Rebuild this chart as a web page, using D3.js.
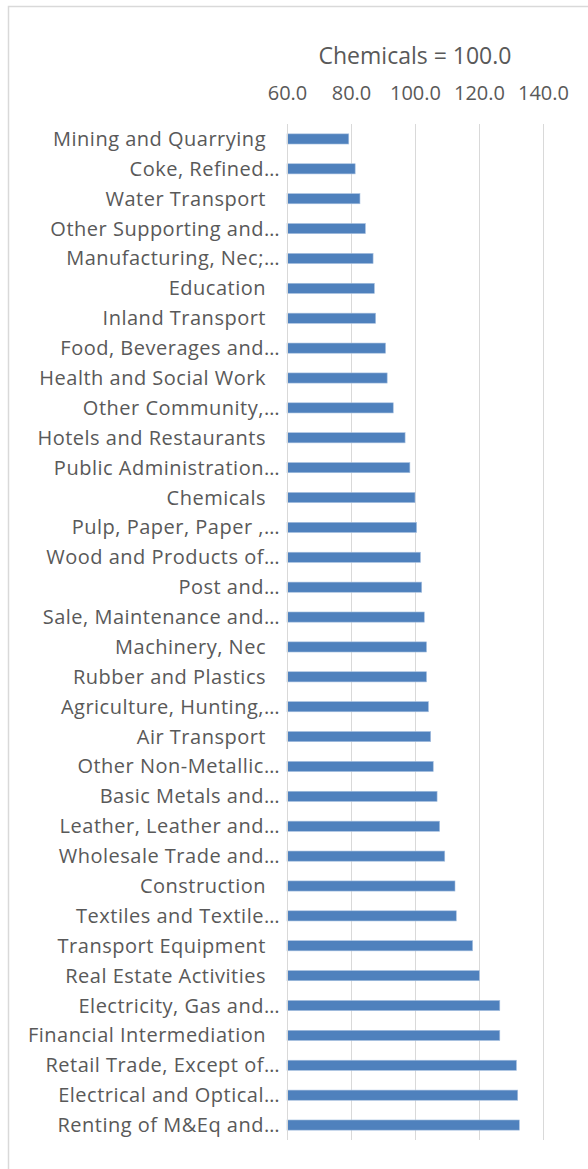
<!DOCTYPE html>
<html>
<head>
<meta charset="utf-8">
<script src="https://cdn.jsdelivr.net/npm/d3@7"></script>
<style>
  html, body { margin: 0; padding: 0; background: #fff; }
  svg { display: block; }
  text { font-family: "Open Sans", Lato, sans-serif; fill: #595959; }
</style>
</head>
<body>
<svg id="chart" width="588" height="1169"></svg>
<script>
// Industries, top to bottom
const industries = [
  "Mining and Quarrying",
  "Coke, Refined…",
  "Water Transport",
  "Other Supporting and…",
  "Manufacturing, Nec;…",
  "Education",
  "Inland Transport",
  "Food, Beverages and…",
  "Health and Social Work",
  "Other Community,…",
  "Hotels and Restaurants",
  "Public Administration…",
  "Chemicals",
  "Pulp, Paper, Paper ,…",
  "Wood and Products of…",
  "Post and…",
  "Sale, Maintenance and…",
  "Machinery, Nec",
  "Rubber and Plastics",
  "Agriculture, Hunting,…",
  "Air Transport",
  "Other Non-Metallic…",
  "Basic Metals and…",
  "Leather, Leather and…",
  "Wholesale Trade and…",
  "Construction",
  "Textiles and Textile…",
  "Transport Equipment",
  "Real Estate Activities",
  "Electricity, Gas and…",
  "Financial Intermediation",
  "Retail Trade, Except of…",
  "Electrical and Optical…",
  "Renting of M&Eq and…"
];

// Index values (Chemicals = 100.0)
const indexValues = [
  79.3, 81.3, 82.8, 84.5, 86.9, 87.3, 87.7, 90.8, 91.3, 93.2, 96.9, 98.4,
  100.0, 100.5, 101.7, 102.1, 102.9, 103.6, 103.6, 104.2, 104.9, 105.7, 106.9,
  107.7, 109.3, 112.5, 112.9, 118.0, 120.1, 126.5, 126.5, 131.7, 132.1, 132.6
];

const tickValues = [60, 80, 100, 120, 140];
const axisTitle = "Chemicals = 100.0";

const svg = d3.select("#chart");

// chart frame
svg.append("rect")
  .attr("x", 8.5).attr("y", 6.5)
  .attr("width", 620).attr("height", 1200)
  .attr("fill", "#fff")
  .attr("stroke", "#d9d9d9")
  .attr("stroke-width", 1.5);

const plot = { left: 287, right: 543, top: 124, bottom: 1140 };

const x = d3.scaleLinear().domain([60, 140]).range([plot.left, plot.right]);
const y = d3.scaleBand().domain(industries).range([plot.top, plot.bottom]).paddingInner(0.66).paddingOuter(0.33);

// vertical gridlines
svg.append("g")
  .selectAll("line")
  .data(tickValues)
  .join("line")
  .attr("x1", d => Math.round(x(d)) + 0.5)
  .attr("x2", d => Math.round(x(d)) + 0.5)
  .attr("y1", plot.top)
  .attr("y2", plot.bottom)
  .attr("stroke", "#d9d9d9")
  .attr("stroke-width", 1);

// top axis tick labels
const xAxis = d3.axisTop(x)
  .tickValues(tickValues)
  .tickFormat(d3.format(".1f"))
  .tickSize(0)
  .tickPadding(0);

const ax = svg.append("g")
  .attr("transform", `translate(0,${99.5})`)
  .call(xAxis);
ax.select(".domain").remove();
ax.selectAll("text")
  .attr("y", 0)
  .attr("dy", 0)
  .style("font-size", "20px")
  .style("font-family", "'Open Sans', Lato, sans-serif")
  .attr("fill", "#595959");

// axis title
svg.append("text")
  .attr("x", (plot.left + plot.right) / 2)
  .attr("y", 64)
  .attr("text-anchor", "middle")
  .style("font-size", "23px")
  .text(axisTitle);

// bars
svg.append("g")
  .selectAll("rect")
  .data(industries)
  .join("rect")
  .attr("x", x(60))
  .attr("y", d => y(d))
  .attr("width", (d, i) => x(indexValues[i]) - x(60))
  .attr("height", y.bandwidth())
  .attr("fill", "#4f81bd")
  .attr("stroke", "#a7c0df")
  .attr("stroke-width", 0.6);

// category axis line
svg.append("line")
  .attr("x1", plot.left + 0.5).attr("x2", plot.left + 0.5)
  .attr("y1", plot.top).attr("y2", plot.bottom)
  .attr("stroke", "#d9d9d9");

// category labels: truncated labels reach the axis, full ones leave a gap
svg.append("g")
  .selectAll("text")
  .data(industries)
  .join("text")
  .attr("x", d => d.endsWith("…") ? 280 : 266)
  .attr("y", d => y(d) + y.bandwidth() / 2)
  .attr("dy", "0.35em")
  .attr("text-anchor", "end")
  .style("font-size", "20px")
  .style("letter-spacing", "0.5px")
  .text(d => d);
</script>
</body>
</html>
